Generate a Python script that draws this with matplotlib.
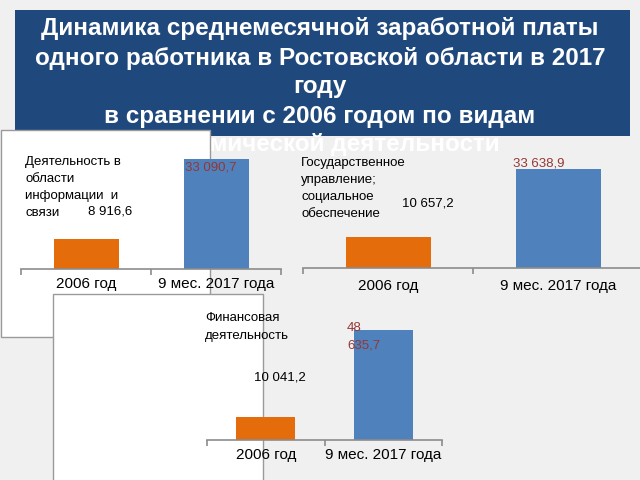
import matplotlib
matplotlib.use("Agg")
import matplotlib.pyplot as plt
from matplotlib.patches import Rectangle

W, H = 640, 480

# data
categories = ["2006 год", "9 мес. 2017 года"]
info_vals = [8916.6, 33090.7]
gov_vals = [10657.2, 33638.9]
fin_vals = [10041.2, 48635.7]
info_name = ["Деятельность в", "области", "информации  и", "связи"]
gov_name = ["Государственное", "управление;", "социальное", "обеспечение"]
fin_name = ["Финансовая", "деятельность"]
title = ["Динамика среднемесячной заработной платы",
         "одного работника в Ростовской области в 2017",
         "году",
         "в сравнении с 2006 годом по видам",
         "экономической деятельности"]

bar_colors = ["#e46c0a", "#4f81bd"]
red = "#953735"
axis_gray = "#8c8c8c"

plt.rcParams["font.family"] = ["Liberation Sans", "DejaVu Sans"]


def fmt(v):
    return f"{v:,.1f}".replace(",", " ").replace(".", ",")


def rect(x0, y0, x1, y1):
    # pixel box (top-left origin) -> figure fraction
    return [x0 / W, 1 - y1 / H, (x1 - x0) / W, (y1 - y0) / H]


def px_text(x, y, s, **kw):
    return fig.text(x / W, 1 - y / H, s, **kw)


def px_lines(x, y, lines, step, ha="left", **kw):
    # one text per line, like the wrapped labels on the slide
    for i, s in enumerate(lines):
        px_text(x, y + i * step, s, ha=ha, va="center", **kw)


def chart(x0, x1, base, blue_top, vals, z, pad=6):
    top = blue_top - 10
    ax = fig.add_axes(rect(x0, top, x1, base), zorder=z)
    ax.patch.set_alpha(0)
    ax.bar(range(len(vals)), vals, width=0.5, color=bar_colors)
    ax.set_xlim(-0.5, len(vals) - 0.5)
    ax.set_ylim(0, vals[1] * (base - top) / (base - blue_top))
    for s in ["top", "left", "right"]:
        ax.spines[s].set_visible(False)
    ax.spines["bottom"].set_color(axis_gray)
    ax.spines["bottom"].set_linewidth(1.2)
    ax.set_yticks([])
    ax.set_xticks([-0.5, 0.5, 1.5])
    ax.set_xticklabels([])
    ax.tick_params(axis="x", which="major", length=4, color=axis_gray, width=1.2)
    ax.set_xticks([0, 1], minor=True)
    ax.set_xticklabels(categories, minor=True, fontsize=11)
    ax.tick_params(axis="x", which="minor", length=0, pad=pad)
    return ax


fig = plt.figure(figsize=(6.4, 4.8), dpi=100)
fig.patch.set_facecolor("#f0f0f0")

# title banner
fig.add_artist(Rectangle((15 / W, 1 - 136 / H), 615 / W, 126 / H,
                         transform=fig.transFigure, facecolor="#1f497d",
                         edgecolor="none", zorder=1))
px_lines(320, 29, title, 29, ha="center", color="white", fontsize=17.5,
         fontweight="bold", zorder=2)

# first white box
fig.add_artist(Rectangle((1 / W, 1 - 337 / H), 209 / W, 207 / H,
                         transform=fig.transFigure, facecolor="white",
                         edgecolor="#9a9a9a", linewidth=1, zorder=3))

# chart 1: information and communication
chart(21, 281, 269, 159, info_vals, 4)
px_lines(25, 162, info_name, 17, fontsize=9.5, zorder=5)
px_text(88, 212, fmt(info_vals[0]), ha="left", va="center", fontsize=9.5, zorder=5)
px_text(185, 167, fmt(info_vals[1]), ha="left", va="center", fontsize=9.5,
        color=red, zorder=5)

# chart 2: public administration
chart(303, 643, 268, 169, gov_vals, 4, pad=8)
px_lines(301, 163, gov_name, 17, fontsize=9.5, zorder=5)
px_text(402, 203, fmt(gov_vals[0]), ha="left", va="center", fontsize=9.5, zorder=5)
px_text(513, 163, fmt(gov_vals[1]), ha="left", va="center", fontsize=9.5,
        color=red, zorder=5)

# second white box
fig.add_artist(Rectangle((53 / W, 1 - 482 / H), 210 / W, 188 / H,
                         transform=fig.transFigure, facecolor="white",
                         edgecolor="#9a9a9a", linewidth=1, zorder=6))

# chart 3: financial activity
chart(207, 442, 440, 330, fin_vals, 7)
px_lines(205, 318, fin_name, 18, fontsize=9.5, zorder=8)
px_text(254, 377, fmt(fin_vals[0]), ha="left", va="center", fontsize=9.5, zorder=8)
px_lines(347, 328, fmt(fin_vals[1]).split(" "), 18, fontsize=9.5, color=red,
         zorder=8)

fig.savefig("out.png", dpi=100, facecolor=fig.get_facecolor())
